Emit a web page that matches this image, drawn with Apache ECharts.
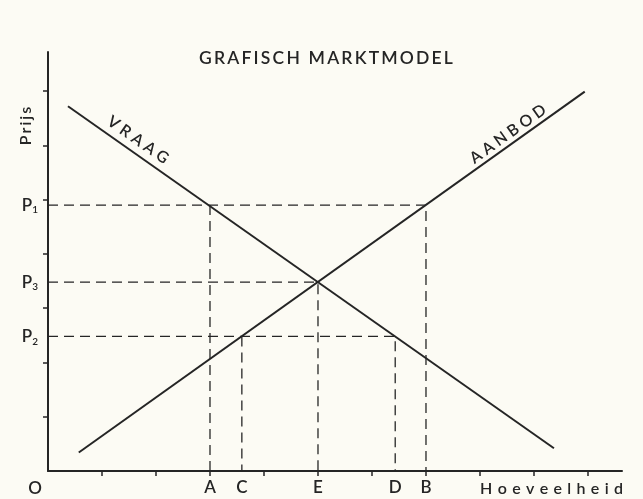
<!DOCTYPE html>
<html>
<head>
<meta charset="utf-8">
<script src="https://cdn.jsdelivr.net/npm/echarts@6/dist/echarts.min.js"></script>
<style>
    html, body { margin: 0; padding: 0; background: #fcfbf4; }
    #chart { width: 643px; height: 499px; }
</style>
</head>
<body>
<div id="chart"></div>
<script>
    // hoeveelheden op de x-as
    var qLabels = ['A', 'C', 'E', 'D', 'B'];
    var qValues = [3, 3.59, 5, 6.43, 7];
    // prijzen op de y-as (subscript)
    var pLabels = ['1', '3', '2'];
    var pValues = [4.9, 3.48, 2.48];
    // vraag- en aanbodlijn, begin- en eindpunt
    var vraag = [[0.37, 6.72], [9.37, 0.42]];
    var aanbod = [[0.57, 0.34], [9.94, 6.99]];
    // tick marks
    var xTicks = [1, 2, 3, 4, 5, 6, 7, 8, 9, 10];
    var yTicks = [1, 2, 3, 4, 5, 6, 7];

    var A = qValues[0], C = qValues[1], E = qValues[2], D = qValues[3], B = qValues[4];
    var P1 = pValues[0], P3 = pValues[1], P2 = pValues[2];

    // stippellijnen
    var guides = [
        [[0, P1], [B, P1], [B, 0]],
        [[A, P1], [A, 0]],
        [[0, P3], [E, P3], [E, 0]],
        [[0, P2], [D, P2], [D, 0]],
        [[C, P2], [C, 0]]
    ];

    var ink = '#252525';
    var font = 'Lato';
    function spaced(s, sp) { return s.split('').join(sp); }

    var series = [];
    guides.forEach(function (g) {
        series.push({
            type: 'line', data: g, symbol: 'none', silent: true,
            lineStyle: { color: ink, width: 1.3, type: [10, 6] }
        });
    });
    [vraag, aanbod].forEach(function (l) {
        series.push({
            type: 'line', data: l, symbol: 'none', silent: true,
            lineStyle: { color: ink, width: 2 }
        });
    });

    var chart = echarts.init(document.getElementById('chart'));
    chart.setOption({
        backgroundColor: '#fcfbf4',
        animation: false,
        grid: { left: 48, right: 21, top: 52, bottom: 28 },
        xAxis: {
            type: 'value', min: 0, max: 10.63,
            splitLine: { show: false },
            axisLine: { lineStyle: { color: ink, width: 2 } },
            axisTick: { show: true, length: 5, customValues: xTicks, lineStyle: { color: ink, width: 1.5 } },
            axisLabel: {
                customValues: qValues, margin: 8,
                color: ink, fontFamily: font, fontWeight: 600, fontSize: 17,
                formatter: function (v) { return qLabels[qValues.indexOf(v)]; }
            }
        },
        yAxis: {
            type: 'value', min: 0, max: 7.72,
            splitLine: { show: false },
            axisLine: { lineStyle: { color: ink, width: 2 } },
            axisTick: { show: true, length: 5, customValues: yTicks, lineStyle: { color: ink, width: 1.5 } },
            axisLabel: {
                customValues: pValues, margin: 10,
                formatter: function (v) { return '{p|P}{s|' + pLabels[pValues.indexOf(v)] + '}'; },
                rich: {
                    p: { color: ink, fontFamily: font, fontWeight: 600, fontSize: 17, lineHeight: 20 },
                    s: { color: ink, fontFamily: font, fontWeight: 600, fontSize: 10, lineHeight: 20, verticalAlign: 'bottom', padding: [12, 0, 0, 0] }
                }
            }
        },
        graphic: [
            { type: 'text', x: 326, y: 58, style: { text: spaced('GRAFISCH MARKTMODEL', '\u2009'), fill: ink, font: '600 17.5px ' + font, align: 'center', verticalAlign: 'middle' } },
            { type: 'text', x: 138, y: 140, rotation: -0.613, style: { text: spaced('VRAAG', '\u2005'), fill: ink, font: '600 16px ' + font, align: 'center', verticalAlign: 'middle' } },
            { type: 'text', x: 508, y: 134, rotation: 0.62, style: { text: spaced('AANBOD', '\u2005'), fill: ink, font: '600 16px ' + font, align: 'center', verticalAlign: 'middle' } },
            { type: 'text', x: 26, y: 126, rotation: Math.PI / 2, style: { text: spaced('Prijs', '\u2009'), fill: ink, font: '600 16px ' + font, align: 'center', verticalAlign: 'middle' } },
            { type: 'text', x: 35, y: 489, style: { text: 'O', fill: ink, font: '600 17px ' + font, align: 'center', verticalAlign: 'middle' } },
            { type: 'text', x: 623, y: 489, style: { text: spaced('Hoeveelheid', '\u2004'), fill: ink, font: '600 16px ' + font, align: 'right', verticalAlign: 'middle' } }
        ],
        series: series
    });
</script>
</body>
</html>
